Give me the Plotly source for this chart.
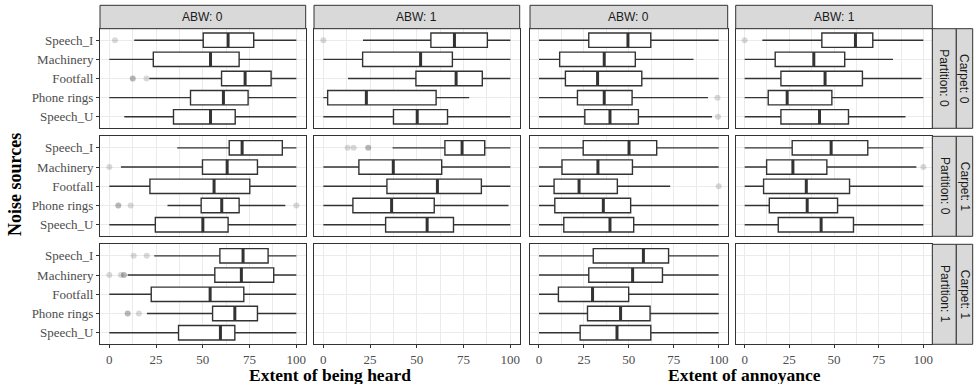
import plotly.graph_objects as go

SOURCES = ["Speech_I", "Machinery", "Footfall", "Phone rings", "Speech_U"]
COL_LABELS = ["ABW: 0", "ABW: 1", "ABW: 0", "ABW: 1"]
ROW_PARTITION = ["Partition: 0", "Partition: 0", "Partition: 1"]
ROW_CARPET = ["Carpet: 0", "Carpet: 1", "Carpet: 1"]
X_TICKS = [0, 25, 50, 75, 100]
X_TITLES = ["Extent of being heard", "Extent of annoyance"]
Y_TITLE = "Noise sources"

# (lower whisker, Q1, median, Q3, upper whisker) per source, in SOURCES order
heard_abw0_c0p0 = [(13.3, 50.2, 63.5, 77.2, 100), (0, 23.5, 54.1, 69.4, 100), (21.4, 60, 72.6, 86.5, 100),
                   (0, 43.4, 61, 74.2, 100), (8, 34.3, 54.1, 67.3, 100)]
heard_abw1_c0p0 = [(21.2, 57.5, 70.1, 87.7, 100), (0, 21, 52, 69, 100), (13.2, 49.5, 71, 85, 100),
                   (0, 2.3, 23, 60.3, 78), (0, 37.5, 50.2, 66.4, 100)]
annoy_abw0_c0p0 = [(0, 27.7, 49.5, 62.2, 100), (0, 11.5, 36.3, 53.6, 86), (0, 14.7, 32.6, 57.2, 100),
                   (0, 21.4, 36.3, 51.8, 94), (0, 25.5, 39.5, 55.3, 96.3)]
annoy_abw1_c0p0 = [(9.9, 43.2, 62, 71.7, 100), (0, 17.1, 38.7, 56, 83), (0, 20.3, 45, 65.9, 99),
                   (0, 13.2, 23.8, 48.8, 100), (0, 20.3, 41.9, 58.1, 90)]
heard_abw0_c1p0 = [(36.3, 64.1, 71, 92.5, 100), (6.2, 49.8, 63, 79.2, 100), (0, 21.7, 56, 75.1, 100),
                   (31.1, 49.1, 60.1, 69.4, 94.1), (0, 24.6, 50, 63.5, 100)]
heard_abw1_c1p0 = [(37, 65, 74.2, 86.3, 100), (0, 19, 37.4, 63.3, 100), (0, 34, 61, 84.5, 100),
                   (0, 15.8, 36.5, 59.3, 99), (0, 33.3, 55.5, 69.6, 100)]
annoy_abw0_c1p0 = [(0, 24.6, 50.1, 65.5, 100), (0, 12.8, 32.8, 52, 100), (0, 8.4, 22.3, 43.6, 73),
                   (0, 8.8, 35.8, 51, 100), (0, 13.8, 39.5, 52.7, 100)]
annoy_abw1_c1p0 = [(0, 26.6, 48.4, 68.9, 100), (0, 12.3, 27, 46, 96.1), (0, 10.6, 34.5, 58.7, 100),
                   (0, 13.8, 35, 52, 100), (0, 18.8, 42.8, 60.9, 100)]
heard_abw0_c1p1 = [(24, 59.1, 71.5, 84.9, 100), (9.8, 56.4, 70.6, 87.9, 100), (0, 22.4, 53.9, 71.9, 100),
                   (20.1, 55.2, 67.1, 79.2, 100), (0, 37, 59.4, 67.1, 100)]
annoy_abw0_c1p1 = [(0, 30.2, 58.1, 72.1, 100), (0, 27.7, 52.1, 68.7, 100), (0, 10.8, 29.8, 49.9, 100),
                   (0, 27, 45.4, 61.8, 100), (0, 22.9, 43.4, 62.2, 100)]

# outliers: (source, value)
heard_abw0_c0p0_out = [("Speech_I", 3), ("Footfall", 12.5), ("Footfall", 12.5), ("Footfall", 19.9)]
heard_abw1_c0p0_out = [("Speech_I", 0)]
annoy_abw0_c0p0_out = [("Phone rings", 99.3), ("Speech_U", 99.6)]
annoy_abw1_c0p0_out = [("Speech_I", 0)]
heard_abw0_c1p0_out = [("Machinery", 0), ("Phone rings", 4.8), ("Phone rings", 4.8), ("Phone rings", 11.4),
                       ("Phone rings", 100)]
heard_abw1_c1p0_out = [("Speech_I", 13), ("Speech_I", 16.2), ("Speech_I", 24), ("Speech_I", 24)]
annoy_abw0_c1p0_out = [("Footfall", 100)]
annoy_abw1_c1p0_out = [("Machinery", 100)]
heard_abw0_c1p1_out = [("Speech_I", 13), ("Speech_I", 20), ("Machinery", 0), ("Machinery", 6.2),
                       ("Machinery", 7.8), ("Machinery", 7.8), ("Phone rings", 9.8), ("Phone rings", 9.8),
                       ("Phone rings", 15.8)]
annoy_abw0_c1p1_out = []

PANELS = {
    (0, 0): (heard_abw0_c0p0, heard_abw0_c0p0_out), (0, 1): (heard_abw1_c0p0, heard_abw1_c0p0_out),
    (0, 2): (annoy_abw0_c0p0, annoy_abw0_c0p0_out), (0, 3): (annoy_abw1_c0p0, annoy_abw1_c0p0_out),
    (1, 0): (heard_abw0_c1p0, heard_abw0_c1p0_out), (1, 1): (heard_abw1_c1p0, heard_abw1_c1p0_out),
    (1, 2): (annoy_abw0_c1p0, annoy_abw0_c1p0_out), (1, 3): (annoy_abw1_c1p0, annoy_abw1_c1p0_out),
    (2, 0): (heard_abw0_c1p1, heard_abw0_c1p1_out), (2, 1): None,
    (2, 2): (annoy_abw0_c1p1, annoy_abw0_c1p1_out), (2, 3): None,
}

W, H = 974, 384
COL_PX = [(100, 305.7), (314, 519.7), (530, 727.7), (735.7, 932.3)]
ROW_PX = [(28.7, 128.3), (136.3, 236.3), (244.3, 344.3)]
STRIP_TOP = (5.3, 28.7)
STRIP_RIGHT = [(932.3, 956.3), (956.3, 972.7)]
XTITLE_CX = [330, 744]
XTITLE_Y = 375

SERIF = "Liberation Serif, Times New Roman, serif"
SANS = "Liberation Sans, Arial, sans-serif"
DARK = "#333333"
GRID = "#EBEBEB"

def px_x(p):
    return p / W

def px_y(p):
    return 1 - p / H

pos = {s: len(SOURCES) - i for i, s in enumerate(SOURCES)}
BOXW = 0.75

fig = go.Figure()
layout = {}
k = 0
for r in range(3):
    for c in range(4):
        k += 1
        xa = "x" if k == 1 else f"x{k}"
        ya = "y" if k == 1 else f"y{k}"
        xkey = "xaxis" if k == 1 else f"xaxis{k}"
        ykey = "yaxis" if k == 1 else f"yaxis{k}"
        x0, x1 = COL_PX[c]
        y0, y1 = ROW_PX[r]
        bottom = r == 2
        layout[xkey] = dict(
            domain=[px_x(x0), px_x(x1)], anchor=ya, range=[-5, 105],
            tickvals=X_TICKS, ticktext=[str(t) for t in X_TICKS],
            showticklabels=bottom, ticks="outside" if bottom else "", ticklen=3, tickcolor=DARK, tickwidth=1,
            tickfont=dict(family=SERIF, size=13, color="#4D4D4D"),
            showgrid=True, gridcolor=GRID, gridwidth=1,
            minor=dict(tickvals=[12.5, 37.5, 62.5, 87.5], showgrid=True, gridcolor=GRID, gridwidth=0.5, ticks=""),
            showline=True, mirror=True, linecolor=DARK, linewidth=1, zeroline=False, fixedrange=True,
        )
        left = c == 0
        layout[ykey] = dict(
            domain=[px_y(y1), px_y(y0)], anchor=xa, range=[0.4, len(SOURCES) + 0.6],
            tickvals=[pos[s] for s in SOURCES], ticktext=SOURCES,
            showticklabels=left, ticks="outside" if left else "", ticklen=3, tickcolor=DARK, tickwidth=1,
            tickfont=dict(family=SERIF, size=13, color="#4D4D4D"),
            showgrid=True, gridcolor=GRID, gridwidth=1,
            showline=True, mirror=True, linecolor=DARK, linewidth=1, zeroline=False, fixedrange=True,
        )
        pdata = PANELS[(r, c)]
        if pdata is None:
            # empty facet: still draw its frame and grid
            fig.add_trace(go.Scatter(x=[None], y=[None], mode="markers", xaxis=xa, yaxis=ya,
                                     showlegend=False, hoverinfo="skip"))
            continue
        stats, outs = pdata
        ys = [pos[s] for s in SOURCES]
        fig.add_trace(go.Box(
            orientation="h", y=ys,
            lowerfence=[st[0] for st in stats], q1=[st[1] for st in stats], median=[st[2] for st in stats],
            q3=[st[3] for st in stats], upperfence=[st[4] for st in stats],
            width=BOXW, whiskerwidth=0, boxpoints=False,
            fillcolor="white", line=dict(color=DARK, width=1.4),
            xaxis=xa, yaxis=ya, showlegend=False, hoverinfo="skip",
        ))
        mx, my = [], []
        for s, st in zip(SOURCES, stats):
            mx += [st[2], st[2], None]
            my += [pos[s] - BOXW / 2, pos[s] + BOXW / 2, None]
        fig.add_trace(go.Scatter(x=mx, y=my, mode="lines", line=dict(color=DARK, width=3),
                                 xaxis=xa, yaxis=ya, showlegend=False, hoverinfo="skip"))
        if outs:
            fig.add_trace(go.Scatter(
                x=[v for _, v in outs], y=[pos[s] for s, _ in outs], mode="markers",
                marker=dict(color="rgba(0,0,0,0.15)", size=6, line=dict(width=0)),
                xaxis=xa, yaxis=ya, showlegend=False, hoverinfo="skip"))

shapes = []
annotations = []
for c in range(4):
    x0, x1 = COL_PX[c]
    shapes.append(dict(type="rect", xref="paper", yref="paper", x0=px_x(x0), x1=px_x(x1),
                       y0=px_y(STRIP_TOP[1]), y1=px_y(STRIP_TOP[0]),
                       fillcolor="#D9D9D9", line=dict(color=DARK, width=1), layer="above"))
    annotations.append(dict(xref="paper", yref="paper", x=px_x((x0 + x1) / 2), y=px_y(sum(STRIP_TOP) / 2),
                            text=COL_LABELS[c], showarrow=False, xanchor="center", yanchor="middle",
                            font=dict(family=SANS, size=12, color="#1A1A1A")))
for r in range(3):
    y0, y1 = ROW_PX[r]
    for j, lab in enumerate([ROW_PARTITION[r], ROW_CARPET[r]]):
        sx0, sx1 = STRIP_RIGHT[j]
        shapes.append(dict(type="rect", xref="paper", yref="paper", x0=px_x(sx0), x1=px_x(sx1),
                           y0=px_y(y1), y1=px_y(y0),
                           fillcolor="#D9D9D9", line=dict(color=DARK, width=1), layer="above"))
        annotations.append(dict(xref="paper", yref="paper", x=px_x((sx0 + sx1) / 2), y=px_y((y0 + y1) / 2),
                                text=lab, showarrow=False, textangle=90, xanchor="center", yanchor="middle",
                                font=dict(family=SANS, size=12, color="#1A1A1A")))

for i in range(2):
    annotations.append(dict(xref="paper", yref="paper", x=px_x(XTITLE_CX[i]), y=px_y(XTITLE_Y),
                            text=f"<b>{X_TITLES[i]}</b>", showarrow=False, xanchor="center", yanchor="middle",
                            borderpad=0, font=dict(family=SERIF, size=17.5, color="black")))
annotations.append(dict(xref="paper", yref="paper", x=px_x(15), y=px_y(185),
                        text=f"<b>{Y_TITLE}</b>", showarrow=False, textangle=-90, xanchor="center",
                        yanchor="middle", font=dict(family=SERIF, size=18, color="black")))

fig.update_layout(
    width=W, height=H, margin=dict(l=0, r=0, t=0, b=0, pad=0),
    paper_bgcolor="white", plot_bgcolor="white", boxmode="overlay",
    shapes=shapes, annotations=annotations, **layout,
)
fig.write_html("out.html")
